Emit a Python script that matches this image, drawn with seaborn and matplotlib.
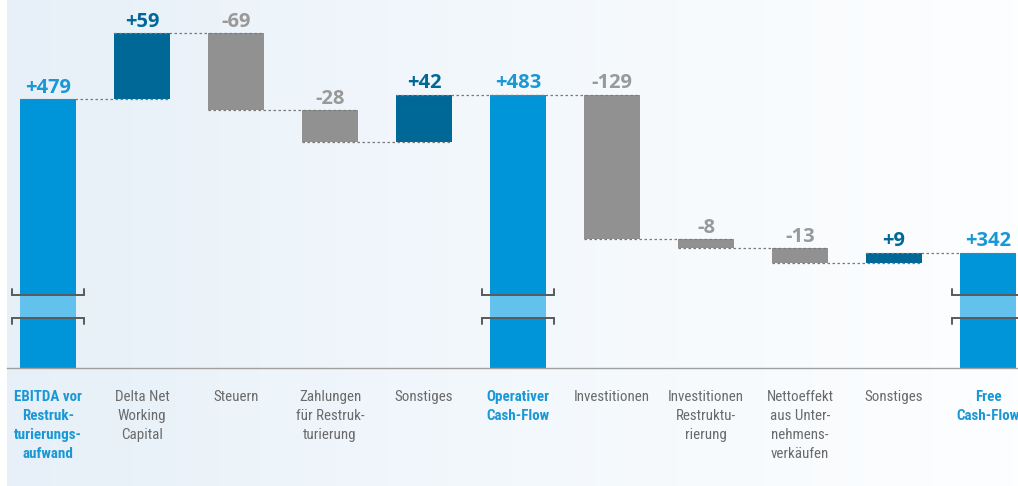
import numpy as np
import pandas as pd
import matplotlib
matplotlib.use("Agg")
import matplotlib.pyplot as plt
import seaborn as sns
from matplotlib import font_manager
from matplotlib.colors import LinearSegmentedColormap
from matplotlib.patches import Rectangle

# ---------------- data ----------------
categories = [
    "EBITDA vor\nRestruk-\nturierungs-\naufwand",
    "Delta Net\nWorking\nCapital",
    "Steuern",
    "Zahlungen\nfür Restruk-\nturierung",
    "Sonstiges",
    "Operativer\nCash-Flow",
    "Investitionen",
    "Investitionen\nRestruktu-\nrierung",
    "Nettoeffekt\naus Unter-\nnehmens-\nverkäufen",
    "Sonstiges",
    "Free\nCash-Flow",
]
values = [479, 59, -69, -28, 42, 483, -129, -8, -13, 9, 342]
is_total = [True, False, False, False, False, True, False, False, False, False, True]
value_labels = ["+479", "+59", "-69", "-28", "+42", "+483", "-129", "-8", "-13", "+9", "+342"]

# ---------------- styling ----------------
C_TOTAL = "#0095d8"
C_POS = "#006897"
C_NEG = "#919191"
C_BAND = "#63c1ee"
LBL_TOTAL = "#1a98d5"
LBL_POS = "#006897"
LBL_NEG = "#999999"
TICK_GREY = "#6a6a6a"

names = {f.name for f in font_manager.fontManager.ttflist}
tick_font, tick_size, tick_ls = "Open Sans", 8.8, 1.7
for fam, size, ls in [("Liberation Sans Narrow", 11.2, 1.3),
                      ("Roboto Condensed", 10.8, 1.45),
                      ("Noto Sans Condensed", 10.4, 1.4),
                      ("Lato", 9.7, 1.55)]:
    if fam in names:
        tick_font, tick_size, tick_ls = fam, size, ls
        break
value_font = "Open Sans"

sns.set_theme(style="white")
plt.rcParams["font.family"] = ["Open Sans", "DejaVu Sans"]

# waterfall geometry derived from values
bottoms, tops, ends, kinds = [], [], [], []
running = 0
for v, t in zip(values, is_total):
    if t:
        bottoms.append(0); tops.append(v); running = v; kinds.append("total")
    else:
        new = running + v
        bottoms.append(min(running, new)); tops.append(max(running, new))
        running = new
        kinds.append("pos" if v > 0 else "neg")
    ends.append(running)

n = len(values)
keys = [f"c{i}" for i in range(n)]
color_map = {"total": C_TOTAL, "pos": C_POS, "neg": C_NEG}
lbl_map = {"total": LBL_TOTAL, "pos": LBL_POS, "neg": LBL_NEG}
palette = {k: color_map[kd] for k, kd in zip(keys, kinds)}

df = pd.DataFrame({"key": keys,
                   "height": np.array(tops) - np.array(bottoms),
                   "kind": kinds})

W, H = 1018, 486
fig = plt.figure(figsize=(W / 100, H / 100), dpi=100)
fig.patch.set_facecolor("white")

# background gradient
bg = fig.add_axes([7 / W, 0, 1 - 7 / W, 1], zorder=0)
cmap = LinearSegmentedColormap.from_list("bg", ["#e7f0f8", "#f3f8fc", "#fdfeff"])
bg.imshow(np.linspace(0, 1, 256)[None, :], aspect="auto", cmap=cmap, extent=[0, 1, 0, 1])
bg.set_axis_off()

# main axes
ax_bottom_px = 368
ax = fig.add_axes([7 / W, (H - ax_bottom_px) / H, 1 - 7 / W, ax_bottom_px / H], zorder=1)
ax.patch.set_alpha(0)

bar_w = 56 / 94
sns.barplot(data=df, x="key", y="height", hue="key", palette=palette, legend=False,
            width=bar_w, saturation=1, errorbar=None, ax=ax, zorder=2)
for p in ax.patches:
    i = int(round(p.get_x() + p.get_width() / 2))
    p.set_y(bottoms[i])
    p.set_linewidth(0)

px_per_unit = 1.122
ymin = 479 - (368 - 99) / px_per_unit
ymax = 479 + 99 / px_per_unit
ax.set_ylim(ymin, ymax)
ax.set_xlim(-41 / 94, 10 + 30 / 94)

# connectors
for i in range(n - 1):
    ax.plot([i - bar_w / 2, i + 1 + bar_w / 2], [ends[i], ends[i]],
            ls=(0, (2, 2)), color="#7a7a7a", lw=0.9, zorder=3)

# value labels
for i in range(n):
    ax.annotate(value_labels[i], (i, tops[i]), xytext=(0, 4.5), textcoords="offset points",
                ha="center", va="baseline", fontsize=14.5, fontweight="bold",
                color=lbl_map[kinds[i]], family=value_font, zorder=4)

# axis breaks on total bars
trans = ax.get_xaxis_transform()
f_lo = (368 - 318) / 368
f_hi = (368 - 295) / 368
tick = 6 / 368
half = 36 / 94
for i in range(n):
    if not is_total[i]:
        continue
    ax.add_patch(Rectangle((i - bar_w / 2, f_lo), bar_w, f_hi - f_lo, transform=trans,
                           facecolor=C_BAND, edgecolor="none", zorder=3))
    ax.plot([i - half, i - half, i + half, i + half], [f_hi + tick, f_hi, f_hi, f_hi + tick],
            transform=trans, color="#5a5a5a", lw=1.4, zorder=4, clip_on=False,
            solid_joinstyle="miter")
    ax.plot([i - half, i - half, i + half, i + half], [f_lo - tick, f_lo, f_lo, f_lo - tick],
            transform=trans, color="#5a5a5a", lw=1.4, zorder=4, clip_on=False,
            solid_joinstyle="miter")

# axes styling
for s in ["top", "left", "right"]:
    ax.spines[s].set_visible(False)
ax.spines["bottom"].set_color("#a0a0a0")
ax.spines["bottom"].set_linewidth(1.0)
ax.set_yticks([])
ax.set_xlabel("")
ax.set_ylabel("")
ax.set_xticks(range(n))
ax.set_xticklabels(categories)
ax.tick_params(axis="x", length=0, pad=16)
for i, lab in enumerate(ax.get_xticklabels()):
    lab.set_family(tick_font)
    lab.set_fontsize(tick_size)
    lab.set_linespacing(tick_ls)
    lab.set_multialignment("center")
    if is_total[i]:
        lab.set_color(LBL_TOTAL)
        lab.set_fontweight("bold")
    else:
        lab.set_color(TICK_GREY)

fig.savefig("out.png", dpi=100)
